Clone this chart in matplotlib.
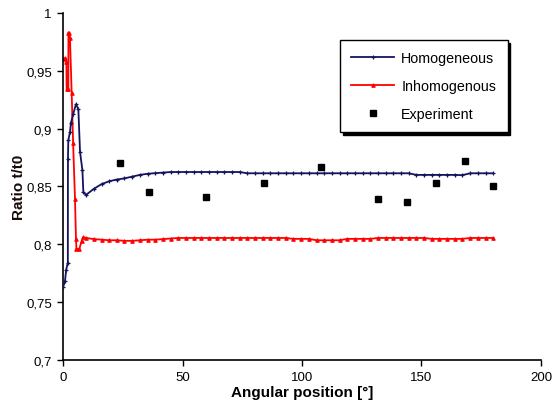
import matplotlib
matplotlib.use("Agg")
import matplotlib.pyplot as plt
from matplotlib.ticker import FuncFormatter

plt.rcParams['font.family'] = ['Liberation Sans', 'DejaVu Sans']

# ---- data ----
grid = [9.6, 12.9, 16.1, 19.3, 22.5, 25.7, 28.9, 32.1, 35.4, 38.6, 41.8, 45.0, 48.2,
        51.4, 54.6, 57.9, 61.1, 64.3, 67.5, 70.7, 73.9, 77.1, 80.4, 83.6, 86.8, 90.0,
        93.2, 96.4, 99.6, 102.9, 106.1, 109.3, 112.5, 115.7, 118.9, 122.1, 125.4,
        128.6, 131.8, 135.0, 138.2, 141.4, 144.6, 147.9, 151.1, 154.3, 157.5, 160.7,
        163.9, 167.1, 170.4, 173.6, 176.8, 180.0]

homo_x_early = [0.0, 0.8, 1.3, 2.0, 2.05, 2.2, 2.9, 3.3, 4.3, 5.4, 6.4, 7.1, 8.1, 8.5]
homo_y_early = [0.763, 0.768, 0.778, 0.784, 0.874, 0.890, 0.897, 0.905, 0.913, 0.921,
                0.917, 0.880, 0.864, 0.845]
homo_y_grid = [0.8427, 0.848, 0.852, 0.8545, 0.856, 0.857, 0.8585, 0.860, 0.861, 0.8615,
               0.862, 0.8625, 0.8625, 0.8625, 0.8625, 0.8625, 0.8625, 0.8625, 0.8625,
               0.8625, 0.8625, 0.8614, 0.8614, 0.8614, 0.8614, 0.8614, 0.8614, 0.8614,
               0.8614, 0.8614, 0.8614, 0.8614, 0.8614, 0.8614, 0.8614, 0.8614, 0.8614,
               0.8614, 0.8614, 0.8614, 0.8614, 0.8614, 0.8614, 0.860, 0.860, 0.860,
               0.860, 0.860, 0.860, 0.8598, 0.8614, 0.8614, 0.8614, 0.8614]

inhomo_x_early = [0.0, 0.9, 1.4, 1.5, 2.2, 2.25, 2.6, 2.9, 3.6, 4.2, 5.0, 5.4, 5.6, 6.8,
                  7.8, 8.5]
inhomo_y_early = [0.960, 0.961, 0.958, 0.934, 0.934, 0.983, 0.983, 0.978, 0.931, 0.888,
                  0.839, 0.805, 0.796, 0.796, 0.803, 0.806]
inhomo_y_grid = [0.8055, 0.8045, 0.804, 0.8035, 0.8035, 0.803, 0.803, 0.8035, 0.804,
                 0.804, 0.8045, 0.805, 0.8055, 0.8055, 0.8055, 0.8055, 0.8055, 0.8055,
                 0.8055, 0.8055, 0.8055, 0.8055, 0.8055, 0.8055, 0.8055, 0.8055, 0.8055,
                 0.8047, 0.8047, 0.8047, 0.8035, 0.8035, 0.8035, 0.8035, 0.8047, 0.8047,
                 0.8047, 0.8047, 0.8055, 0.8055, 0.8055, 0.8055, 0.8055, 0.8055, 0.8055,
                 0.8047, 0.8047, 0.8047, 0.8047, 0.8047, 0.8055, 0.8055, 0.8055, 0.8055]

exp_x = [24, 36, 60, 84, 108, 132, 144, 156, 168, 180]
exp_y = [0.870, 0.845, 0.841, 0.853, 0.867, 0.839, 0.837, 0.853, 0.872, 0.850]

x_ticks = [0, 50, 100, 150, 200]
y_ticks = [0.7, 0.75, 0.8, 0.85, 0.9, 0.95, 1.0]

homo_x = homo_x_early + grid
homo_y = homo_y_early + homo_y_grid
inhomo_x = inhomo_x_early + grid
inhomo_y = inhomo_y_early + inhomo_y_grid

# ---- plot ----
fig = plt.figure(figsize=(5.58, 4.10), dpi=100)
ax = fig.add_axes([0.113, 0.1195, 0.8565, 0.8465])

navy = '#14145e'
ax.plot(homo_x, homo_y, color=navy, lw=1.3, marker='+', ms=3.5, mew=0.9,
        label='Homogeneous', zorder=3)
ax.plot(inhomo_x, inhomo_y, color='#ff0000', lw=1.3, marker='^', ms=2.5, mew=0.8,
        label='Inhomogenous', zorder=2)
ax.plot(exp_x, exp_y, ls='none', marker='s', ms=4.3, color='black',
        label='Experiment', zorder=4)

ax.set_xlim(0, 200)
ax.set_ylim(0.7, 1.0)
ax.set_xticks(x_ticks)
ax.set_yticks(y_ticks)


def comma(v, pos):
    s = ('%g' % v)
    return s.replace('.', ',')


ax.yaxis.set_major_formatter(FuncFormatter(comma))
ax.xaxis.set_major_formatter(FuncFormatter(comma))
ax.tick_params(axis='both', direction='out', length=4, width=1, labelsize=9.5, pad=4)

for s in ['top', 'right']:
    ax.spines[s].set_visible(False)
for s in ['left', 'bottom']:
    ax.spines[s].set_linewidth(1.2)

ax.set_xlabel('Angular position [°]', fontsize=11, fontweight='bold', labelpad=1)
ax.set_ylabel('Ratio t/t0', fontsize=11, fontweight='bold', color='#1a0a0a', labelpad=0)

leg = ax.legend(loc='upper left', bbox_to_anchor=(0.579, 0.922), fontsize=10.3,
                frameon=True, fancybox=False,
                shadow={'color': 'black', 'alpha': 1.0},
                edgecolor='black',
                handlelength=3.0, labelspacing=0.95, borderpad=0.8, handletextpad=0.5,
                borderaxespad=0)
leg.get_frame().set_linewidth(1.0)

fig.savefig('out.png', dpi=100, facecolor='white')
